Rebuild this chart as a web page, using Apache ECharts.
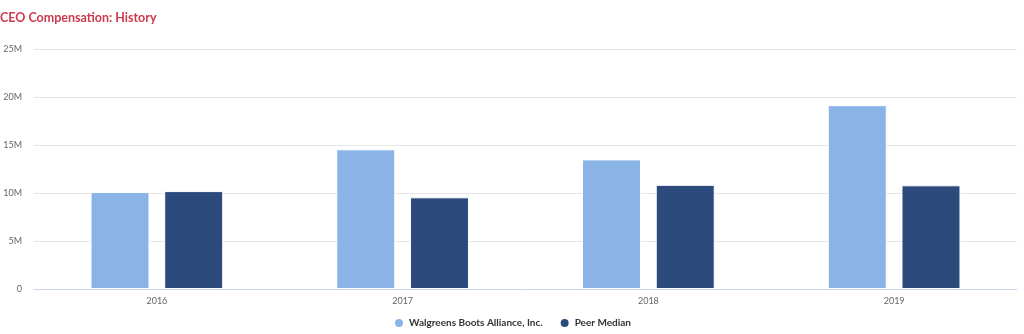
<!DOCTYPE html>
<html><head><meta charset="utf-8">
<script src="https://cdn.jsdelivr.net/npm/echarts@6/dist/echarts.min.js"></script>
<style>html,body{margin:0;padding:0;background:#fff}#c{width:1024px;height:334px}</style>
</head><body><div id="c"></div>
<script>
const categories = ['2016', '2017', '2018', '2019'];
const companyName = 'Walgreens Boots Alliance, Inc.';
const peerName = 'Peer Median';
const companyValues = [10.1, 14.55, 13.5, 19.15];
const peerValues = [10.2, 9.55, 10.85, 10.8];
const yTicks = [0, 5, 10, 15, 20, 25];

const chart = echarts.init(document.getElementById('c'));
const font = 'Lato, "Open Sans", sans-serif';
chart.setOption({
  animation: false,
  title: { text: 'CEO Compensation: History', left: 0, top: 11, padding: 0,
    textStyle: { color: '#cc3a4e', fontSize: 12.5, fontWeight: 'bold', fontFamily: font } },
  legend: { bottom: 0, left: 'center', icon: 'circle', itemWidth: 10, itemHeight: 10, itemGap: 16,
    textStyle: { color: '#333', fontSize: 10, fontWeight: 'bold', fontFamily: font } },
  grid: { left: 34, right: 7, top: 49, bottom: 45 },
  xAxis: { type: 'category', data: categories,
    axisLine: { lineStyle: { color: '#ccd6eb' } }, axisTick: { show: false },
    axisLabel: { color: '#666', fontSize: 9, fontFamily: font, margin: 8 } },
  yAxis: { type: 'value', min: 0, max: 25, interval: 5,
    axisLabel: { color: '#666', fontSize: 9, fontFamily: font, margin: 12,
      formatter: v => yTicks.includes(v) ? (v === 0 ? '0' : v + 'M') : '' },
    splitLine: { lineStyle: { color: '#e6e6e6' } } },
  series: [
    { name: companyName, type: 'bar', data: companyValues, barWidth: '24%', barGap: '25%',
      itemStyle: { color: '#8ab4e6', borderColor: '#ffffff', borderWidth: 1 } },
    { name: peerName, type: 'bar', data: peerValues, barWidth: '24%',
      itemStyle: { color: '#2c4a7c', borderColor: '#ffffff', borderWidth: 1 } }
  ]
});
</script></body></html>
